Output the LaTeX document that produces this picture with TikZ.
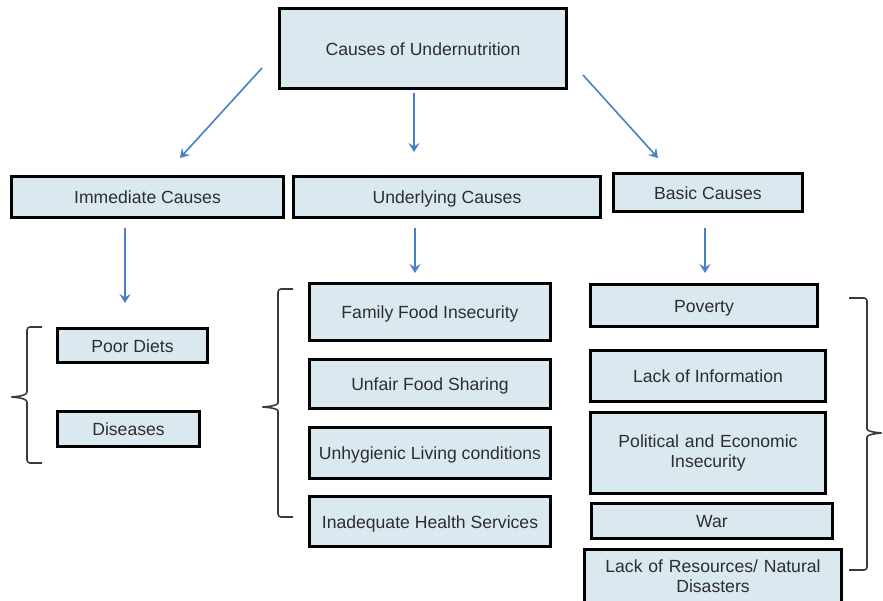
\documentclass[tikz,border=0pt]{standalone}
\usepackage{fontspec}
\setmainfont{Liberation Sans}
\usetikzlibrary{arrows.meta}
\definecolor{boxfill}{HTML}{DAE8EF}
\definecolor{arrowblue}{HTML}{4A7EC6}
\definecolor{txt}{HTML}{2E2E2E}
\definecolor{bracegray}{HTML}{3A3A3A}
\begin{document}
\begin{tikzpicture}[x=1pt,y=-1pt,
  causebox/.style={draw=black, line width=2.8pt, fill=boxfill, text=txt,
    font=\fontsize{17.6}{21}\selectfont, inner sep=0pt, align=center},
  oneline/.style={text height=14.2pt, text depth=0.6pt},
  flow/.style={draw=arrowblue, line width=1.6pt,
    -{Stealth[length=9pt,width=11pt,inset=3.5pt]}},
  brace/.style={draw=bracegray, line width=1.6pt, line join=round, rounded corners=3pt}]
\useasboundingbox (0,0) rectangle (883,601);

% root
\node[causebox, oneline, minimum width=287.2pt, minimum height=80.2pt] (root) at (423,48.5) {Causes of Undernutrition};

% three groups of causes
\node[causebox, oneline, minimum width=272.2pt, minimum height=41.2pt] (imm) at (147.5,197) {Immediate Causes};
\node[causebox, oneline, minimum width=307.2pt, minimum height=41.2pt] (und) at (447,197) {Underlying Causes};
\node[causebox, oneline, minimum width=189.2pt, minimum height=38.2pt] (bas) at (708,192.5) {Basic Causes};

% immediate
\node[causebox, oneline, minimum width=150.2pt, minimum height=34.2pt] (poor) at (132.5,345.5) {Poor Diets};
\node[causebox, oneline, minimum width=142.2pt, minimum height=35.2pt] (dis) at (128.5,429) {Diseases};

% underlying
\node[causebox, oneline, minimum width=241.2pt, minimum height=57.2pt] (ffi) at (430,312) {Family Food Insecurity};
\node[causebox, oneline, minimum width=241.2pt, minimum height=49.2pt] (ufs) at (430,384) {Unfair Food Sharing};
\node[causebox, oneline, minimum width=241.2pt, minimum height=51.2pt] (ulc) at (430,453) {Unhygienic Living conditions};
\node[causebox, oneline, minimum width=241.2pt, minimum height=50.2pt] (ihs) at (430,521.5) {Inadequate Health Services};

% basic
\node[causebox, oneline, minimum width=227.2pt, minimum height=42.2pt] (pov) at (704,305.5) {Poverty};
\node[causebox, oneline, minimum width=235.2pt, minimum height=51.2pt] (loi) at (708,376) {Lack of Information};
\node[causebox, minimum width=235.2pt, minimum height=81.2pt, text width=230pt] (pei) at (708,453) {Political and Economic\\[-1pt]Insecurity};
\node[causebox, oneline, minimum width=241.2pt, minimum height=35.2pt] (war) at (712,521) {War};
\node[causebox, minimum width=257.2pt, minimum height=53.2pt, text width=250pt] (lor) at (713,576) {Lack of Resources/ Natural\\[-1pt]Disasters};

% arrow end points
\coordinate (a1s) at (262,68);  \coordinate (a1e) at (180,158);
\coordinate (a2s) at (414,93);  \coordinate (a2e) at (414,152);
\coordinate (a3s) at (583,75);  \coordinate (a3e) at (658,158);
\coordinate (a4s) at (125,228); \coordinate (a4e) at (125,303);
\coordinate (a5s) at (415,228); \coordinate (a5e) at (415,273);
\coordinate (a6s) at (705,228); \coordinate (a6e) at (705,273);

\draw[flow] (a1s) -- (a1e);
\draw[flow] (a2s) -- (a2e);
\draw[flow] (a3s) -- (a3e);
\draw[flow] (a4s) -- (a4e);
\draw[flow] (a5s) -- (a5e);
\draw[flow] (a6s) -- (a6e);

% braces
\draw[brace] (42,327) -- (27,327) -- (27,389)
  .. controls (27,395) and (20,396.5) .. (10,397)
  .. controls (20,397.5) and (27,399) .. (27,405) -- (27,463) -- (42,463);
\draw[brace] (293,289) -- (278,289) -- (278,400)
  .. controls (278,405) and (271,406.5) .. (261,407)
  .. controls (271,407.5) and (278,409) .. (278,414) -- (278,517) -- (293,517);
\draw[brace] (849,298) -- (867,298) -- (867,426)
  .. controls (867,431) and (874,432.5) .. (883,433)
  .. controls (874,433.5) and (867,435) .. (867,440) -- (867,570) -- (849,570);
\end{tikzpicture}
\end{document}
